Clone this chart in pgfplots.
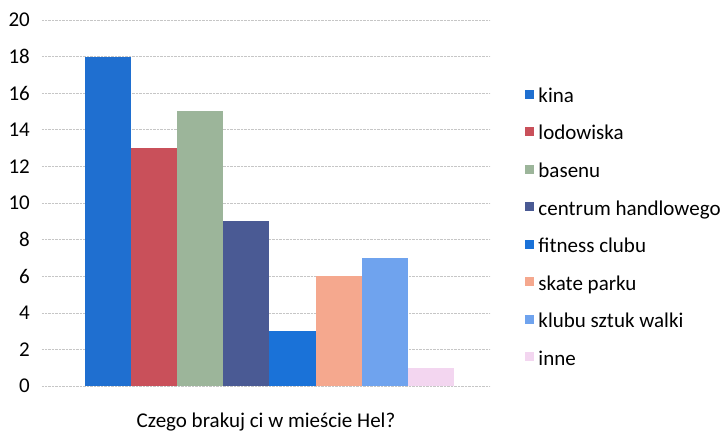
\documentclass[border=0pt]{standalone}
\usepackage{pgfplots}
\pgfplotsset{compat=1.18}
\usepackage{fontspec}
\setmainfont{Carlito}
\definecolor{ckina}{HTML}{1F6FD0}
\definecolor{clod}{HTML}{C9505A}
\definecolor{cbas}{HTML}{9CB59A}
\definecolor{ccen}{HTML}{4A5A94}
\definecolor{cfit}{HTML}{1A72D8}
\definecolor{cska}{HTML}{F5A88E}
\definecolor{cklu}{HTML}{6FA3EE}
\definecolor{cinn}{HTML}{F3D6F0}
\begin{document}
\fontsize{21pt}{25pt}\selectfont
\begin{tikzpicture}
\useasboundingbox (-42pt,-47pt) rectangle (685pt,386pt);
\begin{axis}[
  scale only axis,
  width=448pt, height=366pt,
  at={(0pt,0pt)}, anchor=south west,
  ybar, bar shift=0pt, bar width=1,
  xmin=-1.43, xmax=8.28,
  ymin=0, ymax=20,
  ytick={0,2,...,20},
  xtick=\empty,
  axis line style={draw=none},
  major tick length=0pt,
  ymajorgrids,
  grid style={densely dotted, gray!45, line width=0.6pt},
  /pgf/number format/assume math mode=true,
  ticklabel style={font=\fontsize{21pt}{25pt}\selectfont},
  yticklabel style={xshift=-5pt},
  xlabel={Czego brakuj ci w mieście Hel?},
  xlabel style={font=\fontsize{21pt}{25pt}\selectfont, yshift=-20pt},
  legend cell align=left,
  legend style={draw=none, fill=none, at={(1.072,0.826)}, anchor=north west,
    font=\fontsize{21pt}{25pt}\selectfont, row sep=15.8pt,
    /tikz/every odd column/.append style={column sep=2pt},
    /tikz/every even column/.append style={column sep=0pt}},
  legend image code/.code={\fill[#1] (0pt,-2pt) rectangle (9pt,7pt);},
  every axis plot/.append style={draw=none},
]
\addplot[fill=ckina] coordinates {(0,18)};
\addplot[fill=clod] coordinates {(1,13)};
\addplot[fill=cbas] coordinates {(2,15)};
\addplot[fill=ccen] coordinates {(3,9)};
\addplot[fill=cfit] coordinates {(4,3)};
\addplot[fill=cska] coordinates {(5,6)};
\addplot[fill=cklu] coordinates {(6,7)};
\addplot[fill=cinn] coordinates {(7,1)};
\legend{kina,lodowiska,basenu,centrum handlowego,fitness clubu,skate parku,klubu sztuk walki,inne}
\end{axis}
\end{tikzpicture}
\end{document}
